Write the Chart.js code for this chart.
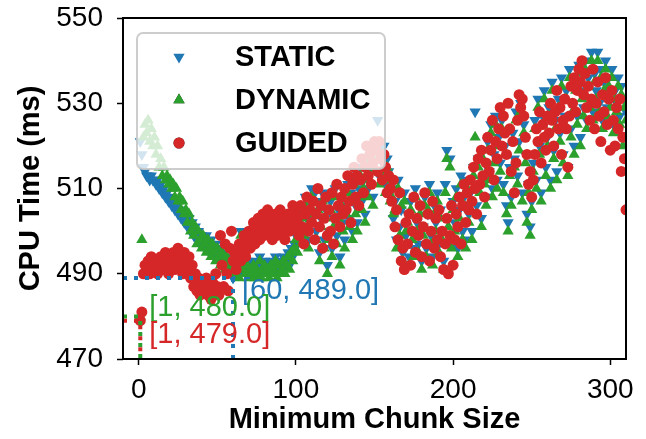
<!DOCTYPE html>
<html>
<head>
<meta charset="utf-8">
<script src="https://cdn.jsdelivr.net/npm/chart.js@4.4.1/dist/chart.umd.min.js"></script>
<style>
  html, body { margin: 0; padding: 0; background: #fff; }
  #wrap { width: 646px; height: 439px; }
</style>
</head>
<body>
<div id="wrap"><canvas id="c" width="646" height="439"></canvas></div>
<script>
// ---- data (CPU time in ms for minimum chunk size 1..310) ----
const staticMs = [
521,518,515,514,513,513,512,513,512,512,
511,512,510,511,509,510,508,509,507,508,
506,507,505,506,504,505,503,504,502,503,
501,503,500,502,499,501,498,500,497,499,
498,496,499,497,495,498,496,494,497,495,
494,496,493,495,492,494,491,493,490,489,
491,493,492,490,500,492,499,491,493,490,
492,491,493,490,492,491,494,490,492,493,
491,492,490,493,491,492,494,490,493,491,
492,494,491,493,495,492,496,494,497,499,
497,502,499,505,501,508,503,498,506,510,
504,509,500,507,495,503,509,498,505,492,
500,507,496,503,510,499,505,494,508,502,
498,506,511,503,509,500,513,506,502,510,
515,507,512,504,517,510,514,519,508,516,
521,526,513,519,516,520,511,517,514,509,
510,503,507,498,512,501,505,495,509,499,
504,494,507,500,496,510,502,497,506,493,
501,508,496,504,511,499,494,506,502,509,
497,505,500,493,511,519,503,517,498,507,
502,510,496,505,513,500,508,498,512,504,
509,500,515,528,506,517,511,503,519,513,
508,521,514,525,510,518,527,512,522,516,
526,511,520,506,502,515,508,523,517,528,
513,521,530,509,525,518,504,511,501,507,
516,526,512,531,520,509,527,533,515,522,
529,512,535,519,526,514,531,523,536,518,
527,533,515,538,524,530,520,535,527,539,
522,533,529,540,526,536,531,542,528,537,
533,542,530,538,526,535,540,529,536,531,
538,525,533,530,536,527,534,522,531,528
];
const dynamicMs = [
480,498,522,525,523,526,521,524,520,522,
518,520,515,517,513,515,512,513,511,512,
510,511,508,510,507,508,505,507,504,505,
502,504,500,502,499,501,497,500,498,496,
499,497,495,498,496,494,497,495,493,496,
494,492,495,493,491,494,492,490,493,491,
490,492,491,489,499,491,498,490,492,489,
491,490,492,489,491,490,493,489,491,492,
490,491,489,492,490,491,493,489,492,490,
491,493,490,492,494,491,495,493,496,498,
495,500,497,503,499,506,501,496,504,508,
502,507,498,505,493,501,507,496,503,490,
498,505,494,501,508,497,503,492,506,500,
496,504,509,501,507,498,511,504,500,508,
513,505,510,502,515,508,512,517,506,514,
519,517,511,517,514,518,509,515,512,507,
508,504,505,496,510,499,506,493,507,500,
502,492,505,498,494,508,500,495,504,491,
499,506,494,505,509,497,492,504,500,507,
495,503,498,491,509,517,501,515,496,505,
500,508,494,503,511,498,506,496,510,502,
507,498,513,522,504,515,509,501,517,511,
506,519,512,523,508,516,525,510,520,514,
524,509,518,504,500,513,506,521,515,526,
511,519,528,507,523,516,502,509,499,505,
514,524,510,529,518,507,525,531,513,520,
527,510,533,517,524,512,529,521,534,516,
525,531,513,536,522,528,518,533,525,537,
520,531,527,538,524,534,529,540,526,535,
531,540,528,536,524,533,538,527,534,529,
536,523,531,528,534,525,532,520,529,526
];
const guidedMs = [
479,481,490,492,491,493,490,494,492,491,
493,490,492,494,491,493,495,492,490,494,
492,495,491,493,496,492,494,490,495,493,
491,494,489,492,487,490,486,489,485,488,
488,486,489,485,487,484,488,486,490,487,
485,499,492,487,497,490,486,496,500,493,
495,491,494,497,493,496,499,494,497,500,
496,499,502,497,500,503,498,501,504,499,
502,505,500,503,498,501,504,499,502,505,
500,503,498,501,504,500,503,506,501,504,
503,499,506,501,497,504,508,500,505,502,
507,498,504,510,501,506,496,503,508,499,
505,500,509,497,503,511,506,501,508,504,
510,505,513,507,502,511,515,508,513,506,
512,517,509,515,520,513,518,511,516,521,
519,514,521,517,512,518,515,509,513,510,
507,512,501,505,498,509,493,496,491,502,
497,504,492,500,508,495,503,499,506,494,
501,509,497,504,493,500,507,496,503,498,
505,494,500,491,497,503,490,499,506,492,
498,504,501,508,497,506,511,502,509,505,
512,507,515,510,504,517,511,519,513,508,
516,522,514,519,526,512,521,517,524,529,
520,527,523,518,530,524,514,521,509,516,
526,532,529,531,527,522,518,511,514,508,
512,518,524,521,528,516,525,522,519,527,
523,530,526,520,528,533,524,529,518,526,
531,524,515,527,534,530,536,528,533,538,
535,540,532,537,529,534,526,531,538,524,
530,535,527,521,532,528,536,525,531,519,
533,526,520,529,524,531,514,522,517,505
];
const seriesNames = ['STATIC', 'DYNAMIC', 'GUIDED'];
const seriesColors = ['#1f77b4', '#2ca02c', '#d62728'];
const xTicks = [0, 100, 200, 300];
const yTicks = [470, 490, 510, 530, 550];
// best (minimum) points: [chunk size, time]
const bestX = [60, 1, 1];
const bestY = [489, 480, 479];

const FONT = '"Liberation Sans", Arial, Helvetica, sans-serif';
const chunk = staticMs.map((_, i) => i + 1);
const toPts = arr => arr.map((v, i) => ({ x: chunk[i], y: v }));

const xMin = -10, xMax = 310, yMin = 470, yMax = 550;

function guideLine(k, ord) {
  return {
    type: 'line',
    label: 'best-' + seriesNames[k],
    data: [{ x: xMin, y: bestY[k] }, { x: bestX[k], y: bestY[k] }, { x: bestX[k], y: yMin }],
    borderColor: seriesColors[k],
    borderWidth: 4,
    borderDash: [4, 7],
    borderCapStyle: 'butt',
    pointRadius: 0,
    fill: false,
    tension: 0,
    order: ord,
    clip: 0
  };
}

const datasets = [
  { label: seriesNames[0], data: toPts(staticMs), pointStyle: 'triangle', rotation: 180, radius: 6.5,
    backgroundColor: seriesColors[0], borderWidth: 0, order: 3, clip: 0 },
  { label: seriesNames[1], data: toPts(dynamicMs), pointStyle: 'triangle', rotation: 0, radius: 6.5,
    backgroundColor: seriesColors[1], borderWidth: 0, order: 2, clip: 0 },
  { label: seriesNames[2], data: toPts(guidedMs), pointStyle: 'circle', radius: 5.5,
    backgroundColor: seriesColors[2], borderWidth: 0, order: 1, clip: 0 },
  guideLine(0, 0), guideLine(1, -1), guideLine(2, -2)
];

const framePlugin = {
  id: 'frame',
  afterDatasetsDraw(chart) {
    const { ctx, chartArea: a, scales } = chart;
    ctx.save();
    ctx.strokeStyle = '#000';
    ctx.lineWidth = 2;
    ctx.strokeRect(a.left, a.top, a.right - a.left, a.bottom - a.top);
    // annotations of best points
    ctx.font = '29px ' + FONT;
    ctx.textAlign = 'left';
    ctx.textBaseline = 'alphabetic';
    const dy = [21, 0, 22];
    for (let k = 0; k < 3; k++) {
      const px = scales.x.getPixelForValue(bestX[k]) + 9;
      const py = scales.y.getPixelForValue(bestY[k]) + dy[k];
      ctx.fillStyle = seriesColors[k];
      ctx.fillText('[' + bestX[k] + ', ' + bestY[k].toFixed(1) + ']', px, py);
    }
    ctx.restore();
  },
  afterDraw(chart) {
    const { ctx, chartArea: a } = chart;
    const bx = a.left + 14, by = a.top + 15, bw = 248, bh = 136, r = 6;
    ctx.save();
    ctx.beginPath();
    ctx.roundRect(bx, by, bw, bh, r);
    ctx.fillStyle = 'rgba(255,255,255,0.8)';
    ctx.fill();
    ctx.lineWidth = 2;
    ctx.strokeStyle = 'rgba(200,200,200,0.9)';
    ctx.stroke();
    ctx.font = 'bold 29px ' + FONT;
    ctx.textAlign = 'left';
    ctx.textBaseline = 'middle';
    for (let k = 0; k < 3; k++) {
      const ds = chart.data.datasets[k];
      const cy = by + 24 + k * 43;
      const cx = bx + 42;
      Chart.helpers.drawPoint(ctx, {
        pointStyle: ds.pointStyle, rotation: ds.rotation || 0,
        radius: ds.pointStyle === 'circle' ? 5.5 : 6.5, borderWidth: 0
      }, cx, cy);
      ctx.fillStyle = ds.backgroundColor;
      ctx.fill();
      ctx.fillStyle = '#000';
      ctx.fillText(ds.label, bx + 98, cy + 1);
    }
    ctx.restore();
  }
};

const tickFont = { family: FONT, size: 28 };
const titleFont = { family: FONT, size: 29, weight: 'bold', lineHeight: 1.2 };

new Chart(document.getElementById('c'), {
  type: 'scatter',
  data: { datasets },
  options: {
    responsive: false,
    animation: false,
    layout: { padding: { left: 0, right: 20, top: 18, bottom: 0 } },
    plugins: { legend: { display: false }, tooltip: { enabled: false } },
    scales: {
      x: {
        type: 'linear', min: xMin, max: xMax,
        afterBuildTicks: s => { s.ticks = xTicks.map(v => ({ value: v })); },
        afterFit: s => { s.height = 80; s.paddingLeft = 0; s.paddingRight = 0; },
        grid: { display: true, drawOnChartArea: false, drawTicks: true, tickLength: 6, tickWidth: 1.5, tickColor: '#000' },
        border: { display: false },
        ticks: { font: tickFont, color: '#000', padding: 8, maxRotation: 0, autoSkip: false },
        title: { display: true, text: 'Minimum Chunk Size', font: titleFont, color: '#000', padding: { top: 0, bottom: 2 } }
      },
      y: {
        type: 'linear', min: yMin, max: yMax,
        afterBuildTicks: s => { s.ticks = yTicks.map(v => ({ value: v })); },
        afterFit: s => { s.width = 123; s.paddingTop = 0; s.paddingBottom = 0; },
        grid: { display: true, drawOnChartArea: false, drawTicks: true, tickLength: 6, tickWidth: 1.5, tickColor: '#000' },
        border: { display: false },
        ticks: { font: tickFont, color: '#000', padding: 14, autoSkip: false },
        title: { display: true, text: 'CPU Time (ms)', font: titleFont, color: '#000', padding: { top: 14, bottom: 0 } }
      }
    }
  },
  plugins: [framePlugin]
});
</script>
</body>
</html>
